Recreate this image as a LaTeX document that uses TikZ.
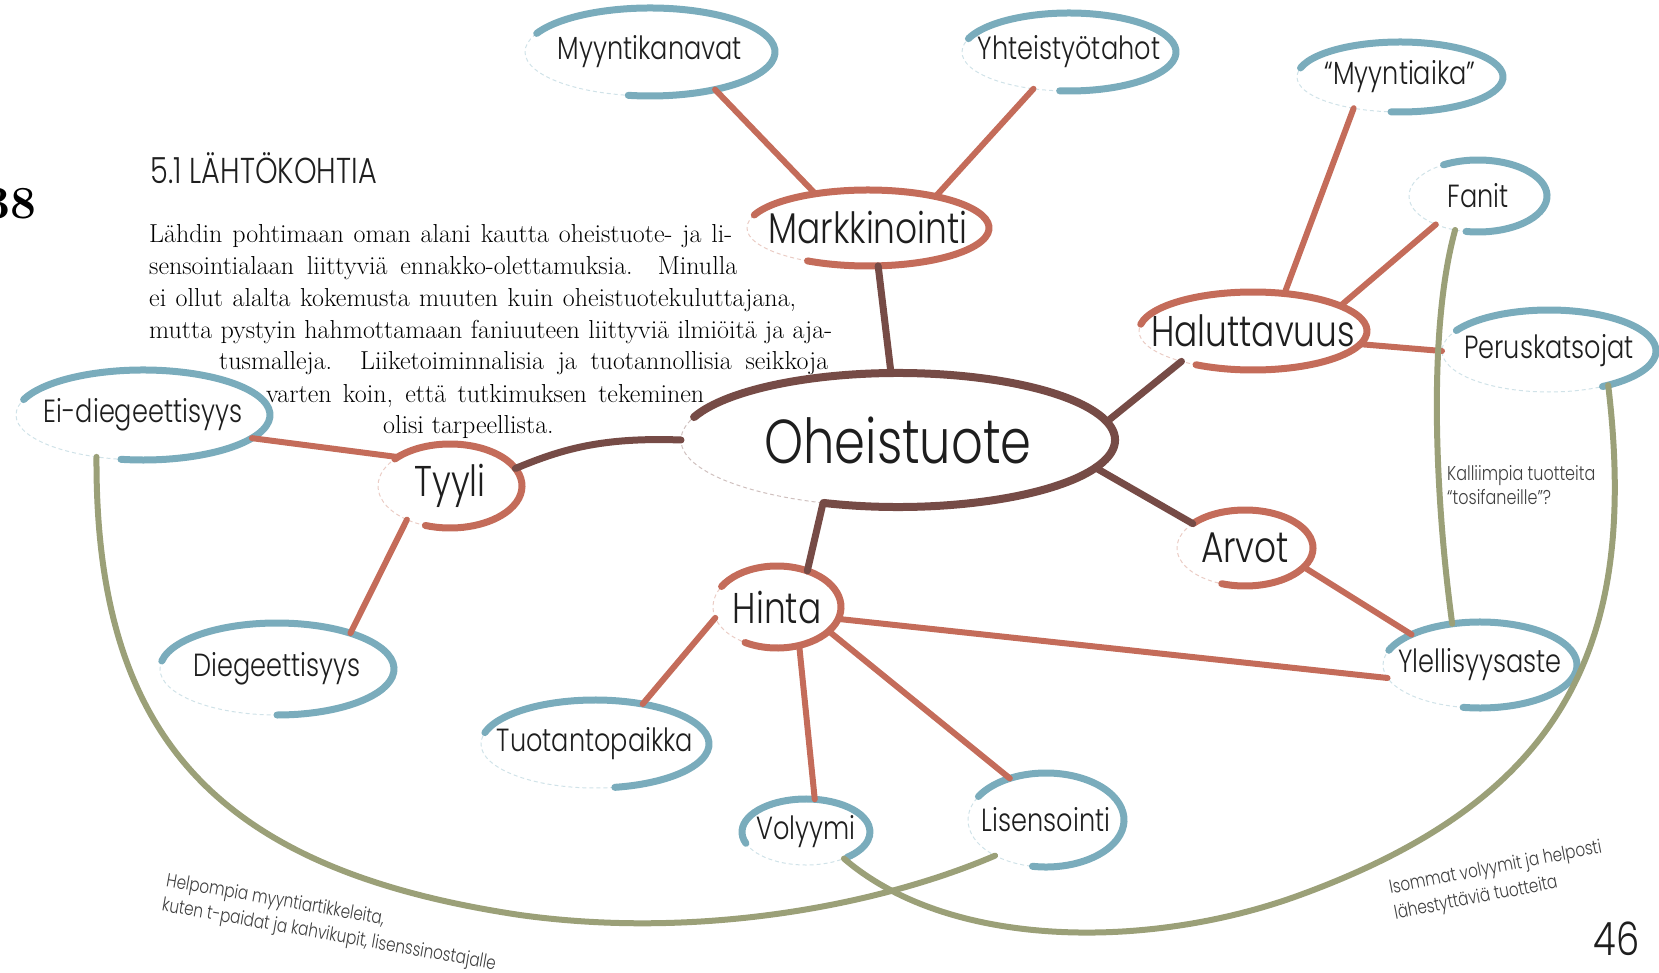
\documentclass[tikz,border=0pt]{standalone}
\usepackage{fontspec}
\newfontfamily\lab{Poppins Light}[FakeStretch=0.8]
\usetikzlibrary{shapes.geometric}
\definecolor{leafC}{HTML}{7AACBC}
\definecolor{midC}{HTML}{C46C5A}
\definecolor{coreC}{HTML}{764B46}
\definecolor{noteC}{HTML}{9BA078}
\definecolor{inkC}{HTML}{1E1E1E}
\tikzset{
  bubble/.style={ellipse,inner sep=0pt,outer sep=0pt,line width=1pt,dash pattern=on 4pt off 3pt,text=inkC,
    execute at begin node={\hbox to 0pt\bgroup\hss},execute at end node={\hss\egroup}},
  core/.style={bubble,draw=coreC!35,font=\lab\fontsize{62}{62}\selectfont},
  mid/.style={bubble,draw=midC!35,font=\lab\fontsize{43}{43}\selectfont},
  leaf/.style={bubble,draw=leafC!35,font=\lab\fontsize{32}{32}\selectfont},
  coreline/.style={draw=coreC,line width=8pt,line cap=round},
  midline/.style={draw=midC,line width=7pt,line cap=round},
  leafline/.style={draw=leafC,line width=7pt,line cap=round},
  trunk/.style={coreC,line width=7pt,line cap=round},
  branch/.style={midC,line width=6pt,line cap=round},
  hint/.style={noteC,line width=6pt,line cap=round},
  note/.style={font=\lab\fontsize{19}{25}\selectfont,text=black!75,align=left,inner sep=0pt},
  body/.style={anchor=base west,inner sep=0pt,font=\fontsize{26}{31}\selectfont}
}
\begin{document}
\begin{tikzpicture}[x=1pt,y=-1pt]
\useasboundingbox (0,0) rectangle (1659,973);
%page text
\node[anchor=base east,font=\fontsize{46}{46}\selectfont\bfseries] (pgl) at (40,219) {38};
\node[anchor=base east,font=\lab\fontsize{46}{46}\selectfont,text=inkC] (pgr) at (1643,955) {46};
\node[anchor=west,font=\lab\fontsize{36}{36}\selectfont,text=inkC] (head) at (147,168) {5.1 LÄHTÖKOHTIA};
\node[body] (l1) at (149,243) {\makebox[583pt][s]{Lähdin pohtimaan oman alani kautta oheistuote- ja li-}};
\node[body] (l2) at (149,275) {\makebox[588pt][s]{sensointialaan liittyviä ennakko-olettamuksia. Minulla}};
\node[body] (l3) at (149,307) {\makebox[647pt][s]{ei ollut alalta kokemusta muuten kuin oheistuotekuluttajana,}};
\node[body] (l4) at (149,338) {\makebox[683pt][s]{mutta pystyin hahmottamaan faniuuteen liittyviä ilmiöitä ja aja-}};
\node[body] (l5) at (219,370) {\makebox[609pt][s]{tusmalleja. Liiketoiminnalisia ja tuotannollisia seikkoja}};
\node[body] (l6) at (266,402) {\makebox[438pt][s]{varten koin, että tutkimuksen tekeminen}};
\node[body] (l7) at (383,433) {olisi tarpeellista.};
%centre
\node[core,minimum width=434pt,minimum height=134pt] (ohe) at (898,440) {Oheistuote};
%first ring
\node[mid,minimum width=242pt,minimum height=76pt] (mark) at (868,228) {Markkinointi};
\node[mid,minimum width=228pt,minimum height=78pt] (hal) at (1253,331) {Haluttavuus};
\node[mid,minimum width=144pt,minimum height=84pt] (tyy) at (450,486) {Tyyli};
\node[mid,minimum width=128pt,minimum height=82pt] (hin) at (777,607) {Hinta};
\node[mid,minimum width=136pt,minimum height=76pt] (arv) at (1245,548) {Arvot};
%leaves
\node[leaf,minimum width=250pt,minimum height=88pt] (myk) at (650,52) {Myyntikanavat};
\node[leaf,minimum width=214pt,minimum height=78pt] (yht) at (1069,52) {Yhteistyötahot};
\node[leaf,minimum width=206pt,minimum height=70pt] (mya) at (1400,77) {“Myyntiaika”};
\node[leaf,minimum width=138pt,minimum height=72pt] (fan) at (1478,196) {Fanit};
\node[leaf,minimum width=214pt,minimum height=82pt] (per) at (1549,351) {Peruskatsojat};
\node[leaf,minimum width=254pt,minimum height=90pt] (ei) at (143,415) {Ei-diegeettisyys};
\node[leaf,minimum width=234pt,minimum height=92pt] (die) at (277,669) {Diegeettisyys};
\node[leaf,minimum width=194pt,minimum height=86pt] (yle) at (1480,665) {Ylellisyysaste};
\node[leaf,minimum width=228pt,minimum height=88pt] (tuo) at (595,744) {Tuotantopaikka};
\node[leaf,minimum width=128pt,minimum height=66pt] (vol) at (806,832) {Volyymi};
\node[leaf,minimum width=156pt,minimum height=94pt] (lis) at (1046,820) {Lisensointi};
%brush strokes
\draw[coreline] (ohe.center) ++(-160:217 and 67) arc[start angle=-160,end angle=110,x radius=217,y radius=67];
\draw[midline] (mark.center) ++(-160:121 and 38) arc[start angle=-160,end angle=120,x radius=121,y radius=38];
\draw[midline] (hal.center) ++(-170:114 and 39) arc[start angle=-170,end angle=120,x radius=114,y radius=39];
\draw[midline] (tyy.center) ++(-140:72 and 42) arc[start angle=-140,end angle=110,x radius=72,y radius=42];
\draw[midline] (hin.center) ++(-150:64 and 41) arc[start angle=-150,end angle=120,x radius=64,y radius=41];
\draw[midline] (arv.center) ++(-140:68 and 38) arc[start angle=-140,end angle=110,x radius=68,y radius=38];
\draw[leafline] (myk.center) ++(-155:125 and 44) arc[start angle=-155,end angle=100,x radius=125,y radius=44];
\draw[leafline] (yht.center) ++(-160:107 and 39) arc[start angle=-160,end angle=95,x radius=107,y radius=39];
\draw[leafline] (mya.center) ++(-165:103 and 35) arc[start angle=-165,end angle=95,x radius=103,y radius=35];
\draw[leafline] (fan.center) ++(-120:69 and 36) arc[start angle=-120,end angle=100,x radius=69,y radius=36];
\draw[leafline] (per.center) ++(-150:107 and 41) arc[start angle=-150,end angle=60,x radius=107,y radius=41];
\draw[leafline] (ei.center) ++(-160:127 and 45) arc[start angle=-160,end angle=100,x radius=127,y radius=45];
\draw[leafline] (die.center) ++(-170:117 and 46) arc[start angle=-170,end angle=90,x radius=117,y radius=46];
\draw[leafline] (yle.center) ++(-160:97 and 43) arc[start angle=-160,end angle=100,x radius=97,y radius=43];
\draw[leafline] (tuo.center) ++(-165:114 and 44) arc[start angle=-165,end angle=80,x radius=114,y radius=44];
\draw[leafline] (vol.center) ++(-200:64 and 33) arc[start angle=-200,end angle=50,x radius=64,y radius=33];
\draw[leafline] (lis.center) ++(-150:78 and 47) arc[start angle=-150,end angle=100,x radius=78,y radius=47];
%centre to first ring
\draw[trunk] (ohe.96) -- (mark.-75);
\draw[trunk] (ohe.west) .. controls (600,437) and (560,450) .. (tyy.15);
\draw[trunk] (ohe.5) -- (hal.203);
\draw[trunk] (ohe.-8) -- (arv.155);
\draw[trunk] (ohe.-140) -- (hin.50);
%first ring to leaves
\draw[branch] (mark.147) -- (myk.-30);
\draw[branch] (mark.25) -- (yht.226);
\draw[branch] (hal.50) -- (mya.214);
\draw[branch] (hal.16) -- (fan.214);
\draw[branch] (hal.-7) -- (per.180);
\draw[branch] (tyy.151) -- (ei.-12);
\draw[branch] (tyy.218) -- (die.26);
\draw[branch] (arv.-18) -- (yle.156);
\draw[branch] (hin.-11) -- (yle.188);
\draw[branch] (hin.190) -- (tuo.40);
\draw[branch] (hin.-60) -- (vol.75);
\draw[branch] (hin.-25) -- (lis.131);
%green notes
\draw[hint] (fan.236) .. controls (1425,340) and (1438,520) .. (yle.124);
\draw[hint] (ei.222) .. controls (95,740) and (220,870) .. (520,915) .. controls (700,940) and (880,905) .. (lis.215);
\draw[hint] (per.-30) .. controls (1640,650) and (1560,800) .. (1300,895) .. controls (1150,950) and (950,950) .. (vol.-35);
\node[note,anchor=west,font=\lab\fontsize{20}{24}\selectfont] (kal) at (1447,485) {Kalliimpia tuotteita\\“tosifaneille”?};
\node[note,anchor=north west,rotate=-10] (hel) at (168,872) {Helpompia myyntiartikkeleita,\\kuten t-paidat ja kahvikupit, lisenssinostajalle};
\node[note,anchor=west,rotate=11,font=\lab\fontsize{19}{26}\selectfont] (iso) at (1392,902) {Isommat volyymit ja helposti\\lähestyttäviä tuotteita};
\end{tikzpicture}
\end{document}
